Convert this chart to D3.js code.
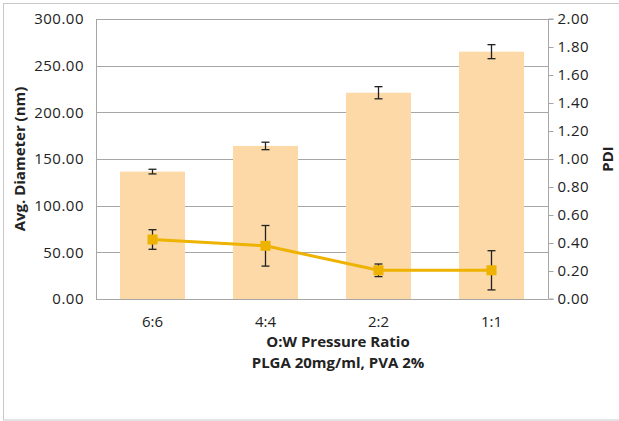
<!DOCTYPE html>
<html>
<head>
<meta charset="utf-8">
<script src="https://cdn.jsdelivr.net/npm/d3@7"></script>
<style>
  body { margin: 0; background: #fff; }
  text { font-family: "Open Sans", sans-serif; fill: #222; }
</style>
</head>
<body>
<div id="chart"></div>
<script>
const categories = ["6:6", "4:4", "2:2", "1:1"];
const diameter = [136.5, 164, 221, 265];
const diameterErr = [2.5, 4, 6.5, 7.5];
const pdi = [0.425, 0.38, 0.205, 0.205];
const pdiErr = [0.07, 0.145, 0.045, 0.14];
const leftTicks = [0, 50, 100, 150, 200, 250, 300];
const rightTicks = [0, 0.2, 0.4, 0.6, 0.8, 1.0, 1.2, 1.4, 1.6, 1.8, 2.0];

const width = 619, height = 421;
const plot = { left: 96, right: 548, top: 19, bottom: 299 };

const svg = d3.select("#chart").append("svg")
  .attr("width", width)
  .attr("height", height);

// outer frame
svg.append("rect")
  .attr("x", 3.5).attr("y", 3.5)
  .attr("width", 720).attr("height", 416.5)
  .attr("fill", "none")
  .attr("stroke", "#c8c8c8");

const x = d3.scaleBand().domain(categories)
  .range([plot.left, plot.right])
  .paddingInner(0.425).paddingOuter(0.2125);
const yL = d3.scaleLinear().domain([0, 300]).range([plot.bottom, plot.top]);
const yR = d3.scaleLinear().domain([0, 2]).range([plot.bottom, plot.top]);

// gridlines
svg.append("g").selectAll("line").data(leftTicks).join("line")
  .attr("x1", plot.left).attr("x2", plot.right)
  .attr("y1", d => Math.round(yL(d)) + 0.5).attr("y2", d => Math.round(yL(d)) + 0.5)
  .attr("stroke", "#a6a6a6");

// left axis line
svg.append("line")
  .attr("x1", plot.left + 0.5).attr("x2", plot.left + 0.5)
  .attr("y1", plot.top).attr("y2", plot.bottom)
  .attr("stroke", "#a6a6a6");

// bars
svg.append("g").selectAll("rect").data(diameter).join("rect")
  .attr("x", (d, i) => x(categories[i]))
  .attr("width", x.bandwidth())
  .attr("y", d => yL(d))
  .attr("height", d => plot.bottom - yL(d))
  .attr("fill", "#fcd9a6");

// bar error bars
const barErr = svg.append("g").attr("stroke", "#222").attr("stroke-width", 1.3);
diameter.forEach((d, i) => {
  const cx = x(categories[i]) + x.bandwidth() / 2;
  const y1 = yL(d + diameterErr[i]), y2 = yL(d - diameterErr[i]);
  barErr.append("line").attr("x1", cx).attr("x2", cx).attr("y1", y1).attr("y2", y2);
  barErr.append("line").attr("x1", cx - 4).attr("x2", cx + 4).attr("y1", y1).attr("y2", y1);
  barErr.append("line").attr("x1", cx - 4).attr("x2", cx + 4).attr("y1", y2).attr("y2", y2);
});

// bottom axis line
svg.append("line")
  .attr("x1", plot.left).attr("x2", plot.right)
  .attr("y1", plot.bottom + 0.5).attr("y2", plot.bottom + 0.5)
  .attr("stroke", "#a6a6a6");

// right axis
const rightAxis = svg.append("g")
  .attr("transform", `translate(${plot.right + 0.5},0)`)
  .call(d3.axisRight(yR).tickValues(rightTicks).tickSize(5).tickPadding(4)
    .tickFormat(d3.format(".2f")));
rightAxis.selectAll("line, path").attr("stroke", "#a6a6a6");
rightAxis.select(".domain").attr("d", `M5,${plot.top}H0V${plot.bottom}H5`);
rightAxis.selectAll("text").attr("font-size", 15).attr("font-family", "Open Sans")
  .attr("letter-spacing", 0.5).attr("fill", "#222");

// left tick labels
svg.append("g").selectAll("text").data(leftTicks).join("text")
  .attr("x", 84).attr("y", d => yL(d))
  .attr("dy", "0.35em")
  .attr("text-anchor", "end")
  .attr("font-size", 15)
  .attr("letter-spacing", 0.5)
  .text(d3.format(".2f"));

// PDI line with error bars
const cxOf = i => x(categories[i]) + x.bandwidth() / 2;
const lineColor = "#eeb200";
svg.append("path")
  .datum(pdi)
  .attr("d", d3.line().x((d, i) => cxOf(i)).y(d => yR(d)))
  .attr("fill", "none")
  .attr("stroke", lineColor)
  .attr("stroke-width", 3);

const pErr = svg.append("g").attr("stroke", "#222").attr("stroke-width", 1.3);
pdi.forEach((d, i) => {
  const cx = cxOf(i);
  const y1 = yR(d + pdiErr[i]), y2 = yR(d - pdiErr[i]);
  pErr.append("line").attr("x1", cx).attr("x2", cx).attr("y1", y1).attr("y2", y2);
  pErr.append("line").attr("x1", cx - 4).attr("x2", cx + 4).attr("y1", y1).attr("y2", y1);
  pErr.append("line").attr("x1", cx - 4).attr("x2", cx + 4).attr("y1", y2).attr("y2", y2);
});

svg.append("g").selectAll("rect").data(pdi).join("rect")
  .attr("x", (d, i) => cxOf(i) - 5)
  .attr("y", d => yR(d) - 5)
  .attr("width", 10).attr("height", 10)
  .attr("fill", lineColor);

// x tick labels
svg.append("g").selectAll("text").data(categories).join("text")
  .attr("x", d => x(d) + x.bandwidth() / 2)
  .attr("y", 327)
  .attr("text-anchor", "middle")
  .attr("font-size", 15)
  .text(d => d);

// axis titles
svg.append("text")
  .attr("x", 338).attr("y", 347)
  .attr("text-anchor", "middle")
  .attr("font-size", 15).attr("font-weight", "bold")
  .text("O:W Pressure Ratio");
svg.append("text")
  .attr("x", 338).attr("y", 368)
  .attr("text-anchor", "middle")
  .attr("font-size", 15).attr("font-weight", "bold")
  .text("PLGA 20mg/ml, PVA 2%");

svg.append("text")
  .attr("transform", `translate(25,${(plot.top + plot.bottom) / 2}) rotate(-90)`)
  .attr("text-anchor", "middle")
  .attr("font-size", 15).attr("font-weight", "bold")
  .text("Avg. Diameter (nm)");

svg.append("text")
  .attr("transform", `translate(613,${(plot.top + plot.bottom) / 2}) rotate(-90)`)
  .attr("text-anchor", "middle")
  .attr("font-size", 15).attr("font-weight", "bold")
  .text("PDI");
</script>
</body>
</html>
